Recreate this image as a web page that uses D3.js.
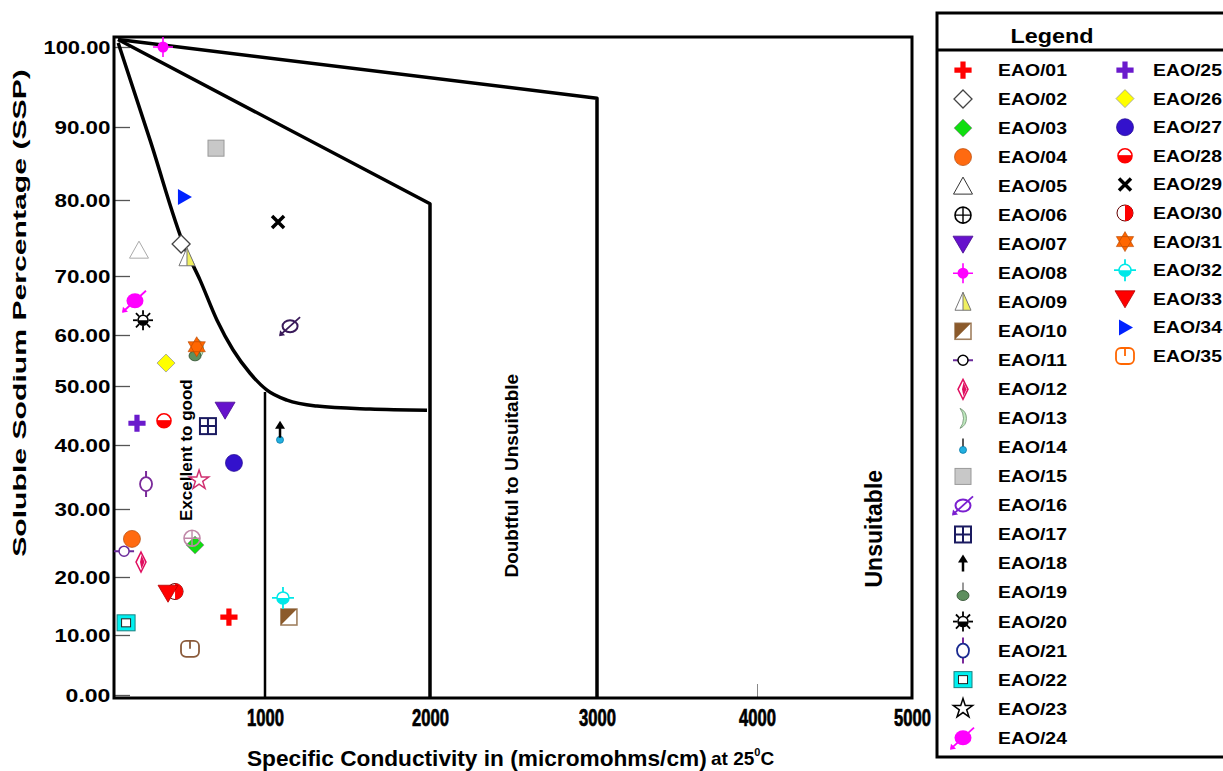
<!DOCTYPE html>
<html>
<head>
<meta charset="utf-8">
<script src="https://cdn.jsdelivr.net/npm/d3@7"></script>
<style>
body{margin:0;background:#fff;}
text{font-family:"Liberation Sans",Arial,sans-serif;font-weight:bold;fill:#000;}
</style>
</head>
<body>
<div id="chart"></div>
<script>

// sample names, EC (micromhos/cm) and SSP (%)
var names = ["EAO/01","EAO/02","EAO/03","EAO/04","EAO/05","EAO/06","EAO/07","EAO/08","EAO/09","EAO/10",
  "EAO/11","EAO/12","EAO/13","EAO/14","EAO/15","EAO/16","EAO/17","EAO/18","EAO/19","EAO/20",
  "EAO/21","EAO/22","EAO/23","EAO/24","EAO/25","EAO/26","EAO/27","EAO/28","EAO/29","EAO/30",
  "EAO/31","EAO/32","EAO/33","EAO/34","EAO/35"];
var conductivity = [785, 500, 583, 207, 249, 565, 762, 392, 535, 1145,
  160, 261, 613, 1091, 708, 1152, 660, 1091, 583, 273,
  291, 172, 607, 225, 237, 410, 815, 398, 1079, 464,
  593, 1109, 422, 517, 553];
var ssp = [13.1, 74.2, 24.7, 25.6, 73.4, 25.7, 45.9, 100, 72.4, 13.1,
  23.8, 22.2, 57.3, 41.3, 87.1, 61.5, 43.2, 42.6, 56.5, 62.5,
  33.9, 12.1, 34.5, 65.8, 43.7, 54.5, 37.2, 44.1, 77.1, 17.5,
  57.7, 16.4, 17.2, 80.4, 7.7];
var shapes = ["plus","openDiamond","diamond","circle","triangle","circlePlus","triangleDown","crosshair","halfTriangle","halfSquare",
  "barCircle","slimDiamond","crescent","pin","square","slashedCircle","gridSquare","arrowUp","pinEllipse","sun",
  "stemCircle","hollowSquare","star","arrowEllipse","plus","diamond","circle","halfCircleH","x","halfCircleV",
  "star6","halfCrosshair","triangleDown","triangleRight","power"];
var colors = ["#ff0000","#444444","#11dd11","#ff6a10","#aaaaaa","#c088a8","#6611cc","#ff00ff","#f0f060","#8b5a2b",
  "#6a2a9a","#e01060","#c0ecc0","#22b0e0","#c8c8c8","#3a1a5a","#1a1a60","#000000","#5e8f5e","#000000",
  "#7a2a9a","#00f0f0","#d03070","#ff00ff","#6a1acc","#ffff00","#3311cc","#ff0000","#000000","#ff0000",
  "#ff6600","#00e8e8","#ff0000","#0022ff","#8a5a3a"];
// legend draws a few symbols in other colours than the plot
var legendColors = {4:"#333333", 5:"#000000", 10:"#000000", 15:"#7a1fd0", 20:"#1a2a90", 22:"#000000", 34:"#ff6600"};

var yTicks = [0,10,20,30,40,50,60,70,80,90,100];
var xTicks = [1000,2000,3000,4000,5000];

// classification boundaries [EC, SSP]
var unsuitableLine = [[124,100.9],[3000,93.6],[3000,-0.5]];
var doubtfulLine = [[124,100.9],[2000,79.5],[2000,-0.5]];
var goodCurve = [[125,100.5],[315,88.2],[523,73.7],[613,69.3],[714,62.5],[809,57.1],[911,52.5],
  [1012,49.3],[1133,47.6],[1315,46.6],[1636,46.1],[1982,45.9]];
var excellentLine = [[1000,49],[1000,-0.5]];

var zoneNames = ["Excellent to good","Doubtful to Unsuitable","Unsuitable"];
var zoneEC = [529, 2485, 4755];
var zoneSSP = [39.2, 35.2, 27.1];

var W = 1223, H = 771;
var svg = d3.select("#chart").append("svg").attr("width", W).attr("height", H);
svg.append("rect").attr("width", W).attr("height", H).attr("fill", "#fff");

// the original text is stretched / squeezed sideways: scale it to a target width
function fitWidth(sel, w, pre){
  sel.each(function(){
    var n = this.getComputedTextLength();
    d3.select(this).attr("transform", (pre || "") + " scale(" + (w / n) + ",1)");
  });
}

// the original axes are hand-drawn, so tick spacing is uneven
var x = d3.scaleLinear()
  .domain([100,1000,2000,3000,4000,5000])
  .range([114,265,430,597,757,912]);
var y = d3.scaleLinear()
  .domain([-0.5,0,10,20,30,40,50,60,70,80,90,100,101.2])
  .range([698,695,635,577,509,445,386,335,276,200,127,47,37]);

var x0 = x(100), x1 = x(5000), y0 = y(-0.5), y1 = y(101.2);

// axes
var gy = svg.append("g").attr("transform", "translate(" + x0 + ",0)")
  .call(d3.axisLeft(y).tickValues(yTicks).tickFormat(d3.format(".2f")).tickSize(-16).tickPadding(3));
gy.select(".domain").remove();
gy.selectAll(".tick line").attr("stroke", "#555").attr("stroke-width", 1.3);
gy.selectAll(".tick text").style("font-size", "19px");
gy.selectAll(".tick text").each(function(d){
  fitWidth(d3.select(this), d3.format(".2f")(d).length * 11.2);
});

var gx = svg.append("g").attr("transform", "translate(0," + y0 + ")")
  .call(d3.axisBottom(x).tickValues(xTicks).tickFormat(d3.format("d")).tickSize(-14).tickPadding(11));
gx.select(".domain").remove();
gx.selectAll(".tick line").attr("stroke", "#888").attr("stroke-width", 1);
gx.selectAll(".tick text").style("font-size", "24px")
  .attr("stroke", "#000").attr("stroke-width", 0.7);
fitWidth(gx.selectAll(".tick text"), 37);

// frame
svg.append("rect")
  .attr("x", x0).attr("y", y1)
  .attr("width", x1 - x0).attr("height", y0 - y1)
  .attr("fill", "none").attr("stroke", "#000").attr("stroke-width", 3);

// boundaries
var line = d3.line().x(function(d){ return x(d[0]); }).y(function(d){ return y(d[1]); });
[unsuitableLine, doubtfulLine].forEach(function(pts){
  svg.append("path").datum(pts).attr("d", line)
    .attr("fill", "none").attr("stroke", "#000").attr("stroke-width", 3.5).attr("stroke-linejoin", "round");
});
svg.append("path").datum(excellentLine).attr("d", line)
  .attr("fill", "none").attr("stroke", "#000").attr("stroke-width", 2.5);
svg.append("path").datum(goodCurve).attr("d", line.curve(d3.curveMonotoneX))
  .attr("fill", "none").attr("stroke", "#000").attr("stroke-width", 3.5);

// zone labels
var zoneSize = [17, 19, 23];
zoneNames.forEach(function(t, i){
  svg.append("text")
    .attr("transform", "translate(" + x(zoneEC[i]) + "," + y(zoneSSP[i]) + ") rotate(-90)")
    .attr("text-anchor", "middle").attr("dy", "0.35em")
    .style("font-size", zoneSize[i] + "px")
    .text(t);
});

// axis titles
var ty = svg.append("text")
  .attr("text-anchor", "middle").attr("dy", "0.35em")
  .style("font-size", "19px")
  .text("Soluble Sodium Percentage (SSP)");
fitWidth(ty, 488, "translate(19,313) rotate(-90)");

var tx = svg.append("text")
  .style("font-size", "22px")
  .text("Specific Conductivity in (micromohms/cm)");
fitWidth(tx, 460, "translate(247,766)");
var t2 = svg.append("text").attr("x", 711).attr("y", 765).style("font-size", "19px");
t2.append("tspan").text("at 25");
t2.append("tspan").attr("dy", -9).style("font-size", "11px").text("0");
t2.append("tspan").attr("dy", 9).text("C");

function darker(c){ return d3.color(c).darker(1).formatHex(); }

// marker glyphs, drawn around (0,0)
function drawSymbol(g, shape, c){
  switch (shape){
    case "plus":
      g.append("path").attr("d", "M-2.6,-8.5h5.2v6h6v5.2h-6v6h-5.2v-6h-6v-5.2h6z").attr("fill", c);
      break;
    case "openDiamond":
      g.append("path").attr("d", "M0,-9L9,0L0,9L-9,0Z").attr("fill", "#fff").attr("stroke", c).attr("stroke-width", 1.3);
      break;
    case "diamond":
      g.append("path").attr("d", "M0,-9L9,0L0,9L-9,0Z").attr("fill", c).attr("stroke", "#999").attr("stroke-width", 0.8);
      break;
    case "circle":
      g.append("circle").attr("r", 8.5).attr("fill", c).attr("stroke", darker(c)).attr("stroke-width", 0.7);
      break;
    case "triangle":
      g.append("path").attr("d", "M0,-9L9.5,8L-9.5,8Z").attr("fill", "#fff").attr("stroke", c).attr("stroke-width", 1);
      break;
    case "circlePlus":
      g.append("circle").attr("r", 8).attr("fill", "none").attr("stroke", c).attr("stroke-width", 1.6);
      g.append("path").attr("d", "M-8,0H8M0,-8V8").attr("stroke", c).attr("stroke-width", 1.4);
      break;
    case "triangleDown":
      g.append("path").attr("d", "M-10,-8L10,-8L0,9Z").attr("fill", c).attr("stroke", darker(c)).attr("stroke-width", 0.8);
      break;
    case "crosshair":
      g.append("path").attr("d", "M-10,0H10M0,-10V10").attr("stroke", c).attr("stroke-width", 1.6);
      g.append("circle").attr("r", 5.5).attr("fill", c);
      break;
    case "halfTriangle":
      g.append("path").attr("d", "M0,-10L0,8L-8,8Z").attr("fill", "#fff");
      g.append("path").attr("d", "M0,-10L8,8L0,8Z").attr("fill", c);
      g.append("path").attr("d", "M0,-10L8,8L-8,8ZM0,-10V8").attr("fill", "none").attr("stroke", "#777").attr("stroke-width", 1);
      break;
    case "halfSquare":
      g.append("rect").attr("x", -8).attr("y", -8).attr("width", 16).attr("height", 16)
        .attr("fill", "#fff").attr("stroke", "#a08060").attr("stroke-width", 1.6);
      g.append("path").attr("d", "M-8,-8H8L-8,8Z").attr("fill", c);
      break;
    case "barCircle":
      g.append("path").attr("d", "M-10,0H-5M5,0H10").attr("stroke", "#6a2a9a").attr("stroke-width", 2);
      g.append("circle").attr("r", 5).attr("fill", "#fff").attr("stroke", c).attr("stroke-width", 1.5);
      break;
    case "slimDiamond":
      g.append("path").attr("d", "M0,-10L5,0L0,10L-5,0Z").attr("fill", "#fff").attr("stroke", c).attr("stroke-width", 1.5);
      g.append("path").attr("d", "M0.5,-7L3.5,0L0.5,7L-1,0Z").attr("fill", c);
      break;
    case "crescent":
      g.append("path").attr("d", "M-3,-10A11,11 0 0 1 -3,10A16,16 0 0 0 -3,-10Z")
        .attr("fill", c).attr("stroke", "#6a8a6a").attr("stroke-width", 0.8);
      break;
    case "pin":
      g.append("path").attr("d", "M0,-9V0").attr("stroke", "#222").attr("stroke-width", 1.5);
      g.append("circle").attr("cy", 2.5).attr("r", 3.5).attr("fill", c).attr("stroke", "#0a7aa8").attr("stroke-width", 0.8);
      break;
    case "square":
      g.append("rect").attr("x", -8).attr("y", -8).attr("width", 16).attr("height", 16)
        .attr("fill", c).attr("stroke", "#999").attr("stroke-width", 1);
      break;
    case "slashedCircle":
      g.append("ellipse").attr("rx", 7.5).attr("ry", 6).attr("fill", "none").attr("stroke", c).attr("stroke-width", 2);
      g.append("path").attr("d", "M-10,9L10,-9").attr("stroke", c).attr("stroke-width", 1.8);
      g.append("path").attr("d", "M-11,10L-10,4L-5,9Z").attr("fill", c);
      break;
    case "gridSquare":
      g.append("rect").attr("x", -8).attr("y", -8).attr("width", 16).attr("height", 16)
        .attr("fill", "#fff").attr("stroke", c).attr("stroke-width", 2);
      g.append("path").attr("d", "M0,-8V8M-8,0H8").attr("stroke", c).attr("stroke-width", 2);
      break;
    case "arrowUp":
      g.append("path").attr("d", "M0,8V-2").attr("stroke", c).attr("stroke-width", 2.5);
      g.append("path").attr("d", "M-5,-1L5,-1L0,-9Z").attr("fill", c);
      break;
    case "pinEllipse":
      g.append("path").attr("d", "M0,-10V-2").attr("stroke", "#333").attr("stroke-width", 1);
      g.append("ellipse").attr("cy", 3).attr("rx", 6).attr("ry", 5).attr("fill", c).attr("stroke", "#2a4a2a").attr("stroke-width", 0.8);
      break;
    case "sun":
      d3.range(8).forEach(function(k){
        var a = k * Math.PI / 4;
        g.append("line")
          .attr("x1", 5.5 * Math.cos(a)).attr("y1", 5.5 * Math.sin(a))
          .attr("x2", 10 * Math.cos(a)).attr("y2", 10 * Math.sin(a))
          .attr("stroke", c).attr("stroke-width", 1.8);
      });
      g.append("circle").attr("r", 5).attr("fill", "#fff").attr("stroke", c).attr("stroke-width", 1.5);
      g.append("path").attr("d", "M-5,0A5,5 0 0 0 5,0Z").attr("fill", c);
      break;
    case "stemCircle":
      g.append("path").attr("d", "M0,-13V-7M0,7V13").attr("stroke", "#7a2a9a").attr("stroke-width", 2);
      g.append("ellipse").attr("rx", 6).attr("ry", 7).attr("fill", "#fff").attr("stroke", c).attr("stroke-width", 1.8);
      break;
    case "hollowSquare":
      g.append("rect").attr("x", -9).attr("y", -8).attr("width", 18).attr("height", 16)
        .attr("fill", c).attr("stroke", "#1a8080").attr("stroke-width", 1);
      g.append("rect").attr("x", -4.5).attr("y", -4).attr("width", 9).attr("height", 8)
        .attr("fill", "#fff").attr("stroke", "#222").attr("stroke-width", 1);
      break;
    case "star":
      g.append("path").attr("d", d3.symbol(d3.symbolStar, 115)())
        .attr("fill", "#fff").attr("stroke", c).attr("stroke-width", 1.5);
      break;
    case "arrowEllipse":
      g.append("path").attr("d", "M-12,11L11,-10").attr("stroke", c).attr("stroke-width", 1.8);
      g.append("ellipse").attr("rx", 8.5).attr("ry", 7.5).attr("fill", c);
      g.append("path").attr("d", "M-13,12L-12,6L-7,11Z").attr("fill", c);
      break;
    case "halfCircleH":
      g.append("circle").attr("r", 7).attr("fill", "#fff").attr("stroke", c).attr("stroke-width", 1.6);
      g.append("path").attr("d", "M-7,0A7,7 0 0 0 7,0Z").attr("fill", c);
      g.append("path").attr("d", "M-7,0H7").attr("stroke", c).attr("stroke-width", 1.2);
      break;
    case "x":
      g.append("path").attr("d", "M-6,-6L6,6M-6,6L6,-6").attr("stroke", c).attr("stroke-width", 3.5);
      break;
    case "halfCircleV":
      g.append("circle").attr("r", 8).attr("fill", "#fff").attr("stroke", "#660000").attr("stroke-width", 1);
      g.append("path").attr("d", "M0,-8A8,8 0 0 1 0,8Z").attr("fill", c);
      break;
    case "star6":
      // both triangles wound the same way so the centre stays filled
      g.append("path").attr("d", "M0,-10L8.66,5L-8.66,5ZM0,10L-8.66,-5L8.66,-5Z")
        .attr("fill", c).attr("stroke", darker(c)).attr("stroke-width", 0.6);
      break;
    case "halfCrosshair":
      g.append("path").attr("d", "M-11,0H11M0,-11V11").attr("stroke", c).attr("stroke-width", 1.8);
      g.append("circle").attr("r", 6).attr("fill", "#fff").attr("stroke", c).attr("stroke-width", 1.5);
      g.append("path").attr("d", "M-6,0A6,6 0 0 0 6,0Z").attr("fill", c);
      break;
    case "triangleRight":
      g.append("path").attr("d", "M-6,-8L8,0L-6,8Z").attr("fill", c);
      break;
    case "power":
      g.append("rect").attr("x", -9).attr("y", -8).attr("width", 18).attr("height", 16).attr("rx", 5)
        .attr("fill", "#fff").attr("stroke", c).attr("stroke-width", 1.8);
      g.append("path").attr("d", "M0,-8V0").attr("stroke", c).attr("stroke-width", 1.8);
      break;
  }
}

// points
var pts = svg.append("g");
names.forEach(function(n, i){
  var g = pts.append("g").attr("transform", "translate(" + x(conductivity[i]) + "," + y(ssp[i]) + ")");
  drawSymbol(g, shapes[i], colors[i]);
});

// legend
var leg = svg.append("g");
leg.append("rect").attr("x", 937).attr("y", 13).attr("width", 300).attr("height", 744)
  .attr("fill", "#fff").attr("stroke", "#000").attr("stroke-width", 3);
leg.append("line").attr("x1", 937).attr("x2", W).attr("y1", 50).attr("y2", 50)
  .attr("stroke", "#000").attr("stroke-width", 3);
var lt = leg.append("text").attr("dy", "0.35em")
  .attr("text-anchor", "middle").style("font-size", "21px")
  .text("Legend");
fitWidth(lt, 83, "translate(1052,36)");

names.forEach(function(n, i){
  var col = i < 24 ? 0 : 1;
  var row = col ? i - 24 : i;
  var yy = 70 + row * (col ? 28.6 : 29.03);
  var sx = col ? 1125 : 963;
  var tx = col ? 1153 : 998;
  var c = legendColors[i] || colors[i];
  var g = leg.append("g").attr("transform", "translate(" + sx + "," + yy + ")");
  drawSymbol(g, shapes[i], c);
  var t = leg.append("text").attr("dy", "0.35em")
    .style("font-size", "17px")
    .text(n);
  fitWidth(t, 69, "translate(" + tx + "," + yy + ")");
});

</script>
</body>
</html>
